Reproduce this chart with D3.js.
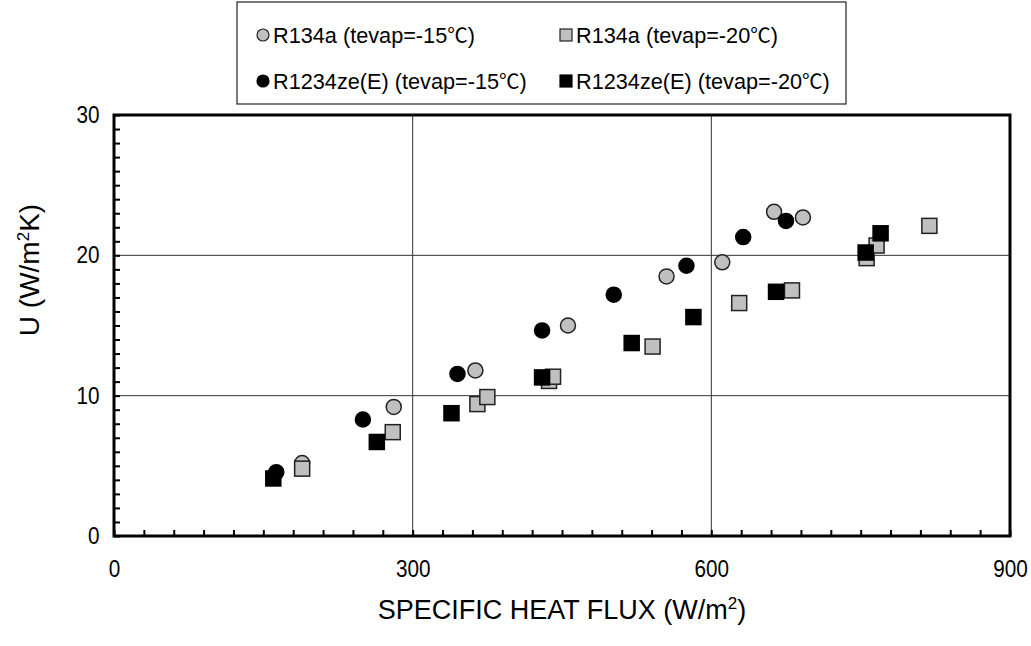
<!DOCTYPE html>
<html>
<head>
<meta charset="utf-8">
<script src="https://cdn.jsdelivr.net/npm/d3@7"></script>
<style>
  html, body { margin: 0; padding: 0; background: #fff; }
  svg { display: block; font-family: "Liberation Sans", Arial, Helvetica, sans-serif; }
</style>
</head>
<body>
<svg id="chart" width="1031" height="646"></svg>
<script>
// ---- data ----
const seriesLabels = ["R134a (tevap=-15", "R134a (tevap=-20", "R1234ze(E) (tevap=-15", "R1234ze(E) (tevap=-20"];
const r134a_m15 = [[189,5.2],[281,9.2],[363,11.8],[456,15.0],[555,18.5],[611,19.5],[663,23.1],[692,22.7]];
const r134a_m20 = [[189,4.8],[280,7.4],[365,9.4],[375,9.9],[437,11.05],[441,11.35],[541,13.5],[628,16.6],[681,17.5],[756,19.8],[766,20.7],[819,22.1]];
const r1234_m15 = [[163,4.55],[250,8.3],[345,11.55],[430,14.65],[502,17.2],[575,19.26],[632,21.3],[675,22.45]];
const r1234_m20 = [[160,4.1],[264,6.7],[339,8.75],[430,11.3],[520,13.75],[582,15.6],[665,17.4],[755,20.2],[770,21.57]];
const xTickLabels = [0, 300, 600, 900];
const yTickLabels = [0, 10, 20, 30];

// ---- layout ----
const svg = d3.select("#chart");
const L = 114, R = 1010, T = 115, B = 536;
const x = d3.scaleLinear().domain([0, 900]).range([L, R]);
const y = d3.scaleLinear().domain([0, 30]).range([B, T]);
const GRAY = "#c0c0c0";
const FONT = "Liberation Sans, Arial, sans-serif";

// grid lines
const grid = svg.append("g");
grid.selectAll("line.vx").data([300, 600]).join("line")
  .attr("x1", d => x(d)).attr("x2", d => x(d)).attr("y1", T).attr("y2", B)
  .attr("stroke", "#333").attr("stroke-width", 1);
grid.selectAll("line.hy").data([10, 20]).join("line")
  .attr("x1", L).attr("x2", R).attr("y1", d => y(d)).attr("y2", d => y(d))
  .attr("stroke", "#333").attr("stroke-width", 1);

// minor ticks (inward)
const xt = svg.append("g").attr("transform", `translate(0,${B})`)
  .call(d3.axisBottom(x).tickValues(d3.range(0, 901, 30)).tickSize(-6).tickFormat(""));
xt.select(".domain").remove();
xt.selectAll(".tick line").attr("stroke", "#000").attr("stroke-width", 2);
const yt = svg.append("g").attr("transform", `translate(${L},0)`)
  .call(d3.axisLeft(y).tickValues(d3.range(0, 31, 1)).tickSize(-6).tickFormat(""));
yt.select(".domain").remove();
yt.selectAll(".tick line").attr("stroke", "#000").attr("stroke-width", 2);

// tick labels (slightly condensed glyphs like the reference)
const xl = svg.append("g").attr("transform", `translate(0,${B})`)
  .call(d3.axisBottom(x).tickValues(xTickLabels).tickSize(0).tickPadding(25));
xl.select(".domain").remove();
xl.selectAll("text").attr("font-size", 23).attr("fill", "#000")
  .attr("font-family", FONT).attr("transform", "scale(0.9,1)");
const yl = svg.append("g").attr("transform", `translate(${L},0)`)
  .call(d3.axisLeft(y).tickValues(yTickLabels).tickSize(0).tickPadding(16));
yl.select(".domain").remove();
yl.selectAll("text").attr("font-size", 23).attr("fill", "#000")
  .attr("font-family", FONT).attr("transform", "scale(0.9,1)");

// frame
svg.append("rect").attr("x", L).attr("y", T).attr("width", R - L).attr("height", B - T)
  .attr("fill", "none").attr("stroke", "#000").attr("stroke-width", 3);

// axis titles
const xTitle = svg.append("text").attr("x", 562).attr("y", 619).attr("text-anchor", "middle")
  .attr("font-size", 27).attr("fill", "#000");
xTitle.append("tspan").text("SPECIFIC HEAT FLUX (W/m");
xTitle.append("tspan").attr("font-size", 17).attr("dy", -10).text("2");
xTitle.append("tspan").attr("dy", 10).text(")");

const yTitle = svg.append("text").attr("transform", "translate(39,270) rotate(-90)")
  .attr("text-anchor", "middle").attr("font-size", 28).attr("fill", "#000");
yTitle.append("tspan").text("U (W/m");
yTitle.append("tspan").attr("font-size", 17).attr("dy", -10).text("2");
yTitle.append("tspan").attr("dy", 10).text("K)");

// markers
const plot = svg.append("g");
function circles(data, fill, stroke) {
  plot.append("g").selectAll("circle").data(data).join("circle")
    .attr("cx", d => x(d[0])).attr("cy", d => y(d[1])).attr("r", 7.5)
    .attr("fill", fill).attr("stroke", stroke).attr("stroke-width", 1.5);
}
function squares(data, fill, stroke) {
  const s = 15;
  plot.append("g").selectAll("rect").data(data).join("rect")
    .attr("x", d => x(d[0]) - s / 2).attr("y", d => y(d[1]) - s / 2)
    .attr("width", s).attr("height", s)
    .attr("fill", fill).attr("stroke", stroke).attr("stroke-width", 1.5);
}
circles(r134a_m15, GRAY, "#222");
circles(r1234_m15, "#000", "#000");
squares(r134a_m20, GRAY, "#222");
squares(r1234_m20, "#000", "#000");

// legend
const lg = svg.append("g");
lg.append("rect").attr("x", 237).attr("y", 2).attr("width", 609).attr("height", 102)
  .attr("fill", "#fff").attr("stroke", "#222").attr("stroke-width", 1.2);
const legendItems = [
  {name: seriesLabels[0], shape: "circle", fill: GRAY, stroke: "#222", lx: 263, ly: 35},
  {name: seriesLabels[1], shape: "square", fill: GRAY, stroke: "#222", lx: 566, ly: 35},
  {name: seriesLabels[2], shape: "circle", fill: "#000", stroke: "#000", lx: 263, ly: 81},
  {name: seriesLabels[3], shape: "square", fill: "#000", stroke: "#000", lx: 566, ly: 81}
];
legendItems.forEach(it => {
  if (it.shape === "circle") {
    lg.append("circle").attr("cx", it.lx).attr("cy", it.ly).attr("r", 6)
      .attr("fill", it.fill).attr("stroke", it.stroke).attr("stroke-width", 1.2);
  } else {
    lg.append("rect").attr("x", it.lx - 6).attr("y", it.ly - 6).attr("width", 12).attr("height", 12)
      .attr("fill", it.fill).attr("stroke", it.stroke).attr("stroke-width", 1.2);
  }
  const t = lg.append("text").attr("x", it.lx + 10).attr("y", it.ly).attr("dy", "0.36em")
    .attr("font-size", 21.7).attr("fill", "#000");
  t.append("tspan").text(it.name);
  t.append("tspan").attr("font-family", "Noto Sans CJK JP").attr("font-size", 20.5).text("℃");
  t.append("tspan").text(")");
});
</script>
</body>
</html>
